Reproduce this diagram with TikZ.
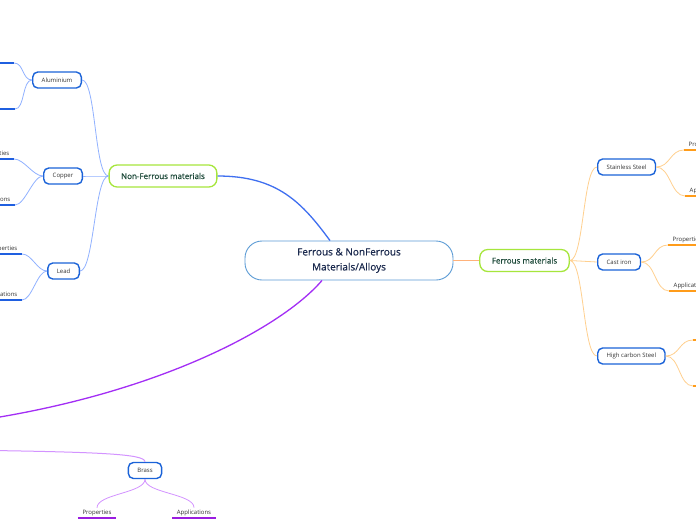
\documentclass[tikz,border=0pt]{standalone}
\usepackage{fontspec}
\setmainfont{Open Sans}
\usetikzlibrary{calc}
\definecolor{rootline}{HTML}{5B9BD5}
\definecolor{roottext}{HTML}{1B2A4E}
\definecolor{mainline}{HTML}{A6E63C}
\definecolor{maintext}{HTML}{1E4A3A}
\definecolor{subline}{HTML}{1B63D8}
\definecolor{inktext}{HTML}{333333}
\definecolor{nfwire}{HTML}{3F6FF0}
\definecolor{nfthin}{HTML}{91B2FF}
\definecolor{nfmark}{HTML}{1F5FE0}
\definecolor{fwire}{HTML}{FFB27A}
\definecolor{fthin}{HTML}{FFD08F}
\definecolor{fmark}{HTML}{FF9C1A}
\definecolor{pwire}{HTML}{A32EF5}
\definecolor{pthin}{HTML}{D393FF}
\definecolor{pmark}{HTML}{9A1DE0}

\begin{document}
\begin{tikzpicture}[
  x=1pt, y=-1pt,
  root/.style={rectangle, rounded corners=17pt, draw=rootline, line width=0.9pt,
    fill=white, text=roottext, align=center,
    font=\fontsize{10}{15}\selectfont\addfontfeatures{FakeBold=0.5},
    minimum width=208pt, minimum height=39pt},
  topic/.style={rectangle, rounded corners=8pt, draw=mainline, line width=1.3pt,
    fill=white, text=maintext,
    font=\fontsize{8}{10}\selectfont\addfontfeatures{FakeBold=0.4},
    minimum height=22pt, inner xsep=12pt},
  sub/.style={rectangle, rounded corners=5pt, draw=subline, line width=1.4pt,
    fill=white, text=inktext, font=\fontsize{6}{7}\selectfont,
    minimum height=16pt, inner xsep=9pt},
  leaf/.style={font=\fontsize{6}{7}\selectfont, text=inktext,
    inner xsep=4.5pt, inner ysep=2pt},
  underline/.style={line width=1.5pt},
  trunk/.style={line width=1.3pt},
  twig/.style={line width=0.8pt}
]
\useasboundingbox (0,0) rectangle (696,520);
\clip (0,0) rectangle (696,520);
\fill[white] (0,0) rectangle (696,520);

% ---------- centre and main topics ----------
\node[root] (root) at (349,260.5) {Ferrous \& NonFerrous\\Materials/Alloys};
\node[topic] (nf) at (163,176) {Non-Ferrous materials};
\node[topic] (fer) at (524.5,260.5) {Ferrous materials};

% off-page branch ends
\coordinate (hidA) at (-40,423);
\coordinate (hidB) at (-40,450);

% ---------- sub topics ----------
\node[sub, anchor=east] (alu) at (82,80) {Aluminium};
\node[sub, anchor=east] (cu) at (83,176) {Copper};
\node[sub, anchor=east] (pb) at (80,271) {Lead};
\node[sub, anchor=west] (ss) at (597,167) {Stainless Steel};
\node[sub, anchor=west] (ci) at (597,262) {Cast iron};
\node[sub, anchor=west] (hc) at (597,356) {High carbon Steel};
\node[sub] (brass) at (145,470.5) {Brass};

% ---------- leaves ----------
\node[leaf, anchor=south east, minimum width=45pt] (al1) at (14,63) {};
\node[leaf, anchor=south east, minimum width=45pt] (al2) at (15,109) {};
\node[leaf, anchor=south east] (cu1) at (14,159) {Properties};
\node[leaf, anchor=south east] (cu2) at (15,205) {Applications};
\node[leaf, anchor=south east] (pb1) at (22,254) {Properties};
\node[leaf, anchor=south east] (pb2) at (22,300) {Applications};
\node[leaf, anchor=south west] (ss1) at (684,150) {Properties};
\node[leaf, anchor=south west] (ss2) at (685,196) {Applications};
\node[leaf, anchor=south west] (ci1) at (668,245) {Properties};
\node[leaf, anchor=south west] (ci2) at (669,291) {Applications};
\node[leaf, anchor=south west] (hc1) at (693,340) {Properties};
\node[leaf, anchor=south west] (hc2) at (693,386) {Applications};
\node[leaf, anchor=south] (br1) at (97,518) {Properties};
\node[leaf, anchor=south] (br2) at (194,518) {Applications};

% ---------- main branches ----------
\draw[trunk, nfwire] (nf.east) .. controls +(60,0) and +(-28,-38) .. ($(root.north)+(-19,0)$);
\draw[twig, fwire, line width=1pt] (root.east) -- (fer.west);
\draw[trunk, pwire] ($(root.south)+(-27,0)$) .. controls +(-42,49) and +(190,-25) .. (hidA);
\draw[twig, pthin, line width=1pt] (hidB) .. controls +(140,2) and +(0,-8) .. (brass.north);

% ---------- sub branches ----------
\foreach \s in {alu,cu,pb}
  \draw[twig, nfthin] (nf.west) .. controls +(-14,0) and +(14,0) .. (\s.east);
\foreach \s in {ss,ci,hc}
  \draw[twig, fthin] (fer.east) .. controls +(14,0) and +(-14,0) .. (\s.west);

% ---------- leaf branches ----------
\foreach \s/\a/\b in {alu/al1/al2, cu/cu1/cu2, pb/pb1/pb2} {
  \draw[twig, nfthin] (\s.west) .. controls +(-10,0) and +(10,0) .. (\a.south east);
  \draw[twig, nfthin] (\s.west) .. controls +(-10,0) and +(10,0) .. (\b.south east);
}
\foreach \s/\a/\b in {ss/ss1/ss2, ci/ci1/ci2, hc/hc1/hc2} {
  \draw[twig, fthin] (\s.east) .. controls +(14,0) and +(-14,0) .. (\a.south west);
  \draw[twig, fthin] (\s.east) .. controls +(14,0) and +(-14,0) .. (\b.south west);
}
\foreach \l in {br1,br2}
  \draw[twig, pthin] (brass.south) .. controls +(0,14) and +(0,-14) .. (\l.north);

% ---------- underlines ----------
\foreach \l/\c in {al1/nfmark, al2/nfmark, cu1/nfmark, cu2/nfmark, pb1/nfmark, pb2/nfmark,
                   ss1/fmark, ss2/fmark, ci1/fmark, ci2/fmark, hc1/fmark, hc2/fmark,
                   br1/pmark, br2/pmark}
  \draw[underline, \c] (\l.south west) -- (\l.south east);

\end{tikzpicture}
\end{document}
